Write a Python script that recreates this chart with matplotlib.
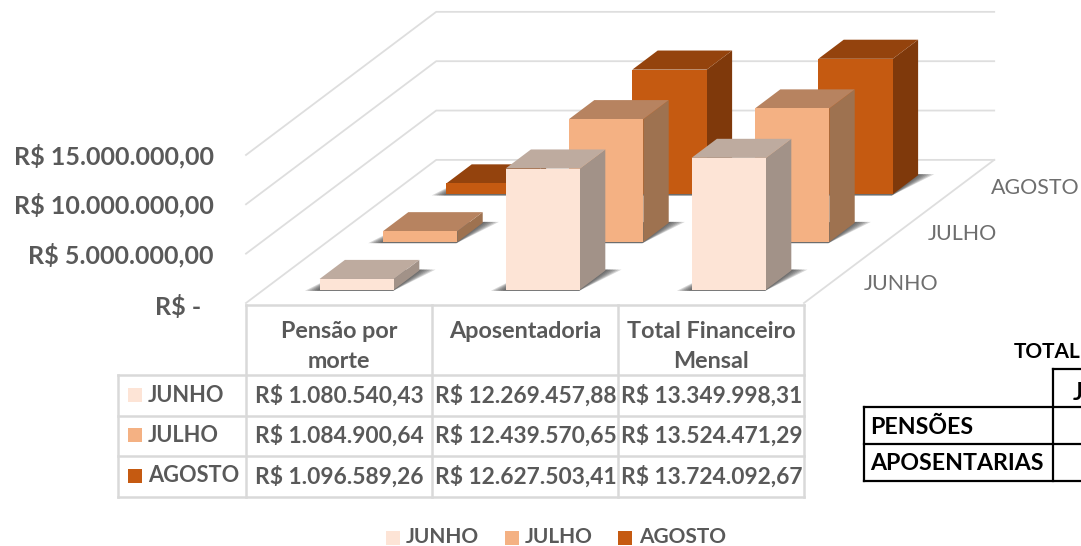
import matplotlib
matplotlib.use("Agg")
import matplotlib.pyplot as plt
from matplotlib.patches import Polygon, Rectangle

plt.rcParams['font.family'] = ['Lato', 'DejaVu Sans']

months = ["JUNHO", "JULHO", "AGOSTO"]
categories = ["Pensão por\nmorte", "Aposentadoria", "Total Financeiro\nMensal"]
pensao = [1080540.43, 1084900.64, 1096589.26]
aposentadoria = [12269457.88, 12439570.65, 12627503.41]
total = [13349998.31, 13524471.29, 13724092.67]
z_ticks = [0, 5000000, 10000000, 15000000]
z_labels = ["R$ -", "R$ 5.000.000,00", "R$ 10.000.000,00", "R$ 15.000.000,00"]
right_rows = ["PENSÕES", "APOSENTARIAS"]

front = ["#FDE4D6", "#F4B183", "#C55A11"]
top = ["#BEAB9F", "#B78360", "#94430D"]
side = ["#A29288", "#9E7250", "#7F390B"]
GRID = "#DEDEDE"
TXT = "#595959"

fig = plt.figure(figsize=(10.81, 5.46), dpi=100)
ax = fig.add_axes([0, 0, 1, 1])
ax.set_xlim(0, 1081)
ax.set_ylim(546, 0)
ax.axis("off")


def proj(u, v, z=0.0):
    return (246 + 186 * u + 63.4 * v, 303 - 47.7 * v - z * 9.87e-6)


def fmt(x):
    s = f"{x:,.2f}".replace(",", "#").replace(".", ",").replace("#", ".")
    return "R$ " + s


# walls and floor
for z in z_ticks:
    a, b, c = proj(0, 0, z), proj(0, 3, z), proj(3, 3, z)
    ax.plot([a[0], b[0], c[0]], [a[1], b[1], c[1]], color=GRID, lw=1.3, zorder=1)
a, b = proj(3, 0), proj(3, 3)
ax.plot([a[0], b[0]], [a[1], b[1]], color=GRID, lw=1.3, zorder=1)

for z, lab in zip(z_ticks, z_labels):
    y = proj(0, 0, z)[1]
    if z == 0:
        ax.text(201, y + 4, lab, ha="right", va="center", fontsize=18, fontweight="bold", color=TXT)
    else:
        ax.text(214, y + 1, lab, ha="right", va="center", fontsize=18, fontweight="bold", color=TXT)

series_lab = [(938, 283), (997, 233), (1080, 186)]
for m, (x, y) in zip(months, series_lab):
    ax.text(x, y + 1.5, m, ha="right", va="center", fontsize=15.4, color="#6E6E6E")

# bars, back to front
UW, VW, V0 = 0.40, 0.40, 0.28
for i in range(3):
    for j in range(3):
        u0, u1 = j + 0.30, j + 0.30 + UW
        v0, v1 = i + V0, i + V0 + VW
        for t in [1.0, 0.82, 0.64, 0.46, 0.28, 0.1]:
            pts = [proj(u0 - 0.07 * t, v0 - 0.025), proj(u1 + 0.004, v0 - 0.025),
                   proj(u1 + 0.08 * t, v1 + 0.02), proj(u1, v1 + 0.02), proj(u0, v1)]
            ax.add_patch(Polygon(pts, closed=True, fc="#3A3A3A", ec="none", alpha=0.2, zorder=2))

zo = 3
for i in [2, 1, 0]:
    vals = [pensao[i], aposentadoria[i], total[i]]
    for j, val in enumerate(vals):
        u0, u1 = j + 0.30, j + 0.30 + UW
        v0, v1 = i + V0, i + V0 + VW
        ax.add_patch(Polygon([proj(u1, v0, 0), proj(u1, v1, 0), proj(u1, v1, val), proj(u1, v0, val)],
                             closed=True, fc=side[i], ec="none", zorder=zo))
        ax.add_patch(Polygon([proj(u0, v0, val), proj(u1, v0, val), proj(u1, v1, val), proj(u0, v1, val)],
                             closed=True, fc=top[i], ec="none", zorder=zo))
        ax.add_patch(Polygon([proj(u0, v0, 0), proj(u1, v0, 0), proj(u1, v0, val), proj(u0, v0, val)],
                             closed=True, fc=front[i], ec="none", zorder=zo))
        zo += 1

# data table
col_x = [246, 432, 618, 804]
row_y = [305, 375, 416, 456, 497]
TL = dict(color="#D9D9D9", lw=1.8, zorder=50)
ax.plot([246, 804], [row_y[0]] * 2, **TL)
for y in row_y[1:]:
    ax.plot([118, 804], [y, y], **TL)
for x in col_x:
    ax.plot([x, x], [305, 497], **TL)
ax.plot([118, 118], [375, 497], **TL)

for j, c in enumerate(categories):
    for k, line in enumerate(c.split("\n")):
        ax.text((col_x[j] + col_x[j + 1]) / 2, 331 + 31 * k, line, ha="center", va="center", fontsize=16.8,
                fontweight="bold", color=TXT, zorder=51)

rows = [[pensao[i], aposentadoria[i], total[i]] for i in range(3)]
row_c = [395, 435, 476]
for i, m in enumerate(months):
    ax.add_patch(Rectangle((128, row_c[i] - 7), 14, 14, fc=front[i], ec="none", zorder=51))
    ax.text(148, row_c[i], m, ha="left", va="center", fontsize=15.7, fontweight="bold", color=TXT, zorder=51)
    for j in range(3):
        ax.text((col_x[j] + col_x[j + 1]) / 2 + 0.5, row_c[i] + 0.5, fmt(rows[i][j]), ha="center", va="center",
                fontsize=16.4, fontweight="bold", color=TXT, zorder=51)

# bottom legend
leg = [(386, 406), (505, 525), (618, 639)]
for i, m in enumerate(months):
    ax.add_patch(Rectangle((leg[i][0], 531), 14, 14, fc=front[i], ec="none", zorder=51))
    ax.text(leg[i][1], 537, m, ha="left", va="center", fontsize=15, fontweight="bold", color=TXT, zorder=51)

# partial table on the right
K = dict(color="black", lw=1.6, zorder=60)
ax.plot([864, 1081], [407, 407], **K)
ax.plot([864, 1081], [444, 444], **K)
ax.plot([864, 1081], [481, 481], **K)
ax.plot([864, 864], [407, 481], **K)
ax.plot([1053, 1053], [369, 481], **K)
ax.plot([1053, 1081], [369, 369], **K)
ax.text(1014, 352, "TOTAL", ha="left", va="center", fontsize=15, fontweight="bold", color="black", zorder=61)
ax.text(1073, 392, "J", ha="left", va="center", fontsize=17, fontweight="bold", color="black", zorder=61)
for t, y in zip(right_rows, [427, 464]):
    ax.text(870, y, t, ha="left", va="center", fontsize=16.7, fontweight="bold", color="black", zorder=61)

fig.savefig("out.png", dpi=100)
